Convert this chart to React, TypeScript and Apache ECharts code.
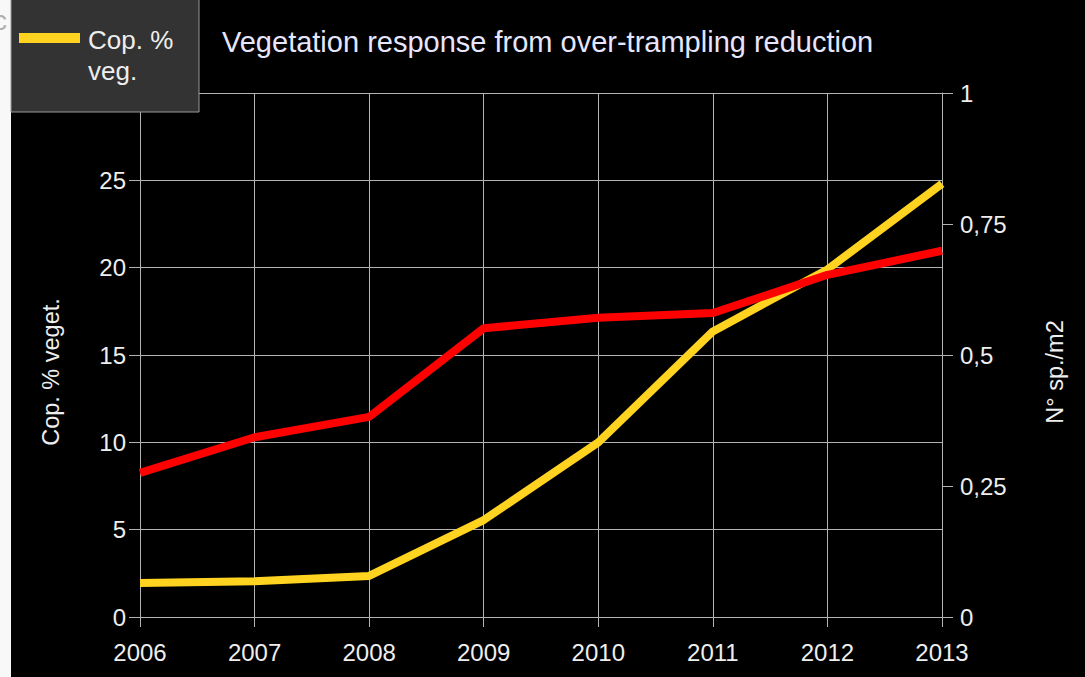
import React, { useEffect, useRef } from "react";
import * as echarts from "echarts";

const years = ["2006", "2007", "2008", "2009", "2010", "2011", "2012", "2013"];
const coverName = "Cop. % veg.";
const coverValues = [1.95, 2.05, 2.35, 5.55, 10.0, 16.35, 19.9, 24.8];
const speciesName = "N° sp./m2";
const speciesValues = [0.275, 0.343, 0.382, 0.551, 0.571, 0.58, 0.653, 0.699];
const titleText = "Vegetation response from over-trampling reduction";
const leftAxisName = "Cop. % veget.";
const rightAxisName = "N° sp./m2";

export default function App() {
  const ref = useRef<HTMLDivElement>(null);
  useEffect(() => {
    document.body.style.margin = "0";
    const chart = echarts.init(ref.current!, null, { renderer: "svg" });
    const font = "Liberation Sans, Arial, sans-serif";
    const grid = "#b3b3b3";
    chart.setOption({
      animation: false,
      backgroundColor: "#000000",
      textStyle: { fontFamily: font },
      title: {
        text: titleText,
        left: 217,
        top: 22,
        textStyle: { color: "#e6e6ff", fontSize: 29, fontWeight: "normal", fontFamily: font },
      },
      grid: { left: 140, right: 143, top: 93, bottom: 60, containLabel: false },
      xAxis: {
        type: "category",
        data: years,
        boundaryGap: false,
        axisLine: { show: true, lineStyle: { color: grid, width: 1 } },
        axisTick: { show: true, length: 10, lineStyle: { color: grid } },
        axisLabel: { color: "#eeeeee", fontSize: 24, margin: 23, fontFamily: font },
        splitLine: { show: true, lineStyle: { color: grid, width: 1 } },
      },
      yAxis: [
        {
          type: "value",
          min: 0,
          max: 30,
          interval: 5,
          position: "left",
          axisLine: { show: true, lineStyle: { color: grid } },
          axisTick: { show: true, length: 11, lineStyle: { color: grid } },
          axisLabel: { color: "#eeeeee", fontSize: 24, margin: 14, fontFamily: font, showMaxLabel: false },
          splitLine: { show: true, lineStyle: { color: grid, width: 1 } },
        },
        {
          type: "value",
          min: 0,
          max: 1,
          interval: 0.25,
          position: "right",
          axisLine: { show: true, lineStyle: { color: grid } },
          axisTick: { show: true, length: 11, lineStyle: { color: grid } },
          axisLabel: {
            color: "#eeeeee",
            fontSize: 24,
            margin: 18,
            fontFamily: font,
            formatter: (v: number) => String(v).replace(".", ","),
          },
          splitLine: { show: false },
        },
      ],
      series: [
        {
          name: coverName,
          type: "line",
          yAxisIndex: 0,
          data: coverValues,
          symbol: "none",
          lineStyle: { color: "#ffd320", width: 8 },
          z: 3,
        },
        {
          name: speciesName,
          type: "line",
          yAxisIndex: 1,
          data: speciesValues,
          symbol: "none",
          lineStyle: { color: "#ff0000", width: 8 },
          z: 4,
        },
      ],
      graphic: [
        {
          type: "text",
          x: 51,
          y: 372,
          rotation: Math.PI / 2,
          style: {
            text: leftAxisName,
            fontSize: 23.5,
            fill: "#eeeeee",
            fontFamily: font,
            align: "center",
            verticalAlign: "middle",
          },
          z: 50,
        },
        {
          type: "text",
          x: 1055,
          y: 372,
          rotation: Math.PI / 2,
          style: {
            text: rightAxisName,
            fontSize: 23.5,
            fill: "#eeeeee",
            fontFamily: font,
            align: "center",
            verticalAlign: "middle",
          },
          z: 50,
        },
        { type: "rect", shape: { x: 0, y: 0, width: 11, height: 677 }, style: { fill: "#f8f8f8" }, z: 100 },
        { type: "text", x: -7, y: 6, style: { text: "c", fontSize: 28, fill: "#b0b0b0", fontFamily: font }, z: 101 },
        {
          type: "rect",
          shape: { x: 11, y: -1, width: 188, height: 113 },
          style: { fill: "#333333", stroke: "#999999", lineWidth: 1 },
          z: 100,
        },
        { type: "rect", shape: { x: 19, y: 33, width: 61, height: 10 }, style: { fill: "#ffd320" }, z: 101 },
        {
          type: "text",
          x: 88,
          y: 24,
          style: { text: "Cop. %\nveg.", fontSize: 26, lineHeight: 31, fill: "#eeeeee", fontFamily: font },
          z: 101,
        },
      ],
    });
    return () => chart.dispose();
  }, []);
  return <div ref={ref} style={{ width: 1085, height: 677 }} />;
}
